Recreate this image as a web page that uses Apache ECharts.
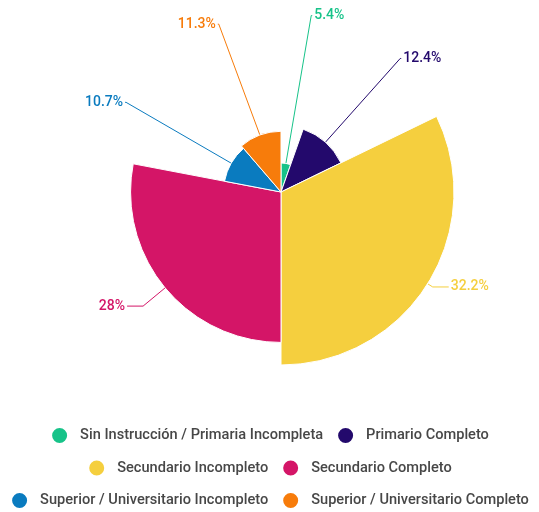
<!DOCTYPE html>
<html>
<head>
<meta charset="utf-8">
<script src="https://cdn.jsdelivr.net/npm/echarts@6/dist/echarts.min.js"></script>
<style>
html, body { margin: 0; padding: 0; background: #fff; }
#chart0 { width: 539px; height: 512px; }
</style>
</head>
<body>
<div id="chart0"></div>
<script>
'use strict';

// categories, values (percent) and colours, clockwise from the top
var categories = [
	'Sin Instrucción / Primaria Incompleta',
	'Primario Completo',
	'Secundario Incompleto',
	'Secundario Completo',
	'Superior / Universitario Incompleto',
	'Superior / Universitario Completo'
];
var values = [ 5.4, 12.4, 32.2, 28, 10.7, 11.3 ];
var colors = [ '#17c389', '#23096c', '#f5cf3e', '#d41567', '#0a7bbf', '#f77c0b' ];

// legend rows as shown under the chart
var legendRows = [
	[ categories[0], categories[1] ],
	[ categories[2], categories[3] ],
	[ categories[4], categories[5] ]
];

var chart0 = echarts.init(document.getElementById('chart0'));

var maxR = 173;
var maxValue = Math.max.apply(null, values);

var pie_data = [];
for (var i = 0; i < values.length; i++) {
	var big = values[i] > maxValue * 0.8;
	pie_data.push({
		name : categories[i],
		value : values[i],
		itemStyle : {
			color : colors[i]
		},
		label : {
			color : colors[i]
		},
		labelLine : {
			// rose labels are measured from the outer radius
			length : big ? 6 : 6,
			length2 : big ? 16 : 1
		}
	});
}

var legends = [];
for (var k = 0; k < legendRows.length; k++) {
	legends.push({
		data : legendRows[k],
		left : 'center',
		top : 426 + k * 32.5,
		padding : 0,
		icon : 'circle',
		itemWidth : 17,
		itemHeight : 17,
		itemGap : 13,
		selectedMode : false,
		textStyle : {
			color : '#474747',
			fontSize : 14.6,
			fontWeight : 500,
			fontFamily : 'Roboto',
			padding : [ 0, 0, 0, 7 ]
		}
	});
}

chart0.setOption({
	animation : false,
	backgroundColor : '#fff',
	legend : legends,
	series : [ {
		name : 'DATA',
		type : 'pie',
		roseType : 'radius',
		center : [ 281, 192 ],
		radius : [ 0, maxR ],
		startAngle : 90,
		clockwise : true,
		avoidLabelOverlap : false,
		itemStyle : {
			borderColor : '#fff',
			borderWidth : 1
		},
		label : {
			show : true,
			position : 'outside',
			formatter : '{d}%',
			fontSize : 14,
			fontWeight : 500,
			fontFamily : 'Roboto',
			distanceToLabelLine : 2
		},
		labelLine : {
			show : true,
			lineStyle : {
				width : 1
			}
		},
		data : pie_data
	} ]
});
</script>
</body>
</html>
